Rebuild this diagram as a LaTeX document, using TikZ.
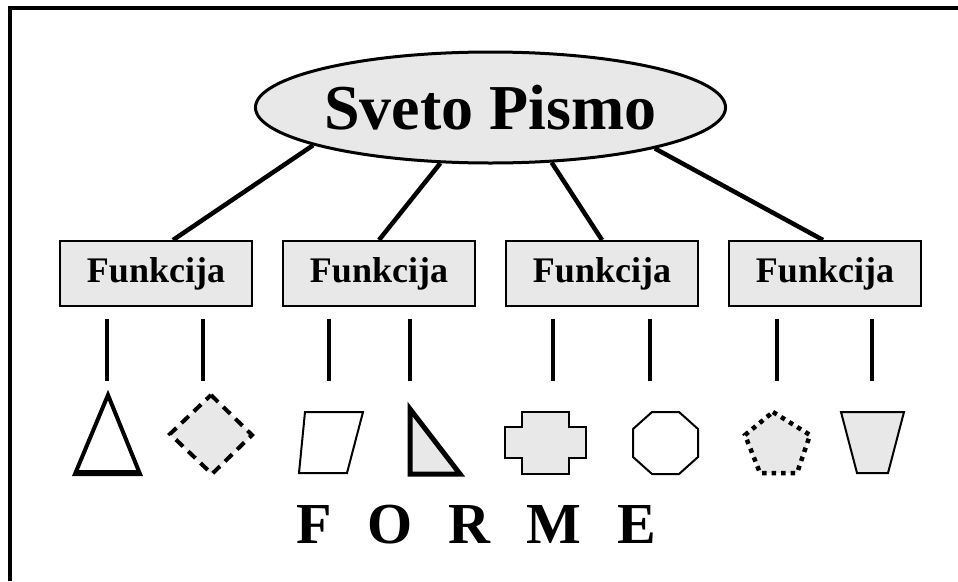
\documentclass[tikz,border=0pt]{standalone}
\usepackage{fontspec}
\setmainfont{Liberation Serif}
\usetikzlibrary{shapes.geometric,calc}
\definecolor{lgray}{HTML}{E8E8E8}
\begin{document}
\begin{tikzpicture}[x=1pt,y=-1pt,
  fbox/.style={draw, line width=2pt, fill=lgray, minimum width=192pt, minimum height=65pt, inner sep=0pt,
    font=\fontsize{36}{40}\selectfont\bfseries},
  conn/.style={line width=4.5pt},
  vline/.style={line width=4.5pt},
  thin/.style={line width=2pt, line join=miter},
]
\useasboundingbox (0,0) rectangle (958,581);
% frame
\draw[line width=4pt] (10,581) |- (958,8);
% root
\node[ellipse, draw, line width=3pt, fill=lgray, minimum width=451pt, minimum height=111pt, inner sep=0pt,
  font=\fontsize{64}{70}\selectfont\bfseries] (sp) at (490.5,107.5) {Sveto Pismo};
% boxes
\node[fbox] (f1) at (156,273.5) {Funkcija};
\node[fbox] (f2) at (379,273.5) {Funkcija};
\node[fbox] (f3) at (602,273.5) {Funkcija};
\node[fbox] (f4) at (825,273.5) {Funkcija};
% connectors
\draw[conn] (sp.192.9) -- ($(f1.north)+(17,0)$);
\draw[conn] (sp.228.9) -- (f2.north);
\draw[conn] (sp.318.8) -- (f3.north);
\draw[conn] (sp.346.1) -- ($(f4.north)+(-2,0)$);
% vertical lines
\foreach \x in {107,203,329,410,553,650,777,872}
  \draw[vline] (\x,319) -- (\x,381);
% triangle
\draw[line width=4pt, line join=miter, fill=white] (108,395) -- (140,474) -- (75,474) -- cycle;
\draw[line width=6pt] (76,473) -- (139,473);
% dashed diamond
\draw[line width=4pt, fill=lgray, dash pattern=on 10pt off 7pt] (211,395) -- (252,435) -- (212,474) -- (170,434) -- cycle;
% parallelogram
\draw[thin, fill=white] (305,412) -- (363,412) -- (347,473) -- (299,473) -- cycle;
% right triangle
\draw[line width=5pt, line join=miter, fill=lgray] (410,409) -- (410,474) -- (460,474) -- cycle;
% cross
\draw[thin, fill=lgray] (522,412) -- (569,412) -- (569,427) -- (586,427) -- (586,458) -- (569,458) -- (569,474)
  -- (522,474) -- (522,458) -- (505,458) -- (505,427) -- (522,427) -- cycle;
% octagon
\draw[thin, fill=white] (652,412) -- (679,412) -- (698,429) -- (698,457) -- (679,474) -- (652,474) -- (633,457) -- (633,429) -- cycle;
% dotted pentagon
\draw[line width=4.5pt, fill=lgray, dash pattern=on 4.5pt off 5pt] (773,412) -- (810,435) -- (797,473) -- (760,473) -- (745,435) -- cycle;
% trapezoid
\draw[thin, fill=lgray] (841,412) -- (904,412) -- (888,473) -- (857,473) -- cycle;
% FORME
\node[anchor=base, inner sep=0pt, font=\fontsize{58}{64}\selectfont\bfseries] (forme) at (476,543)
  {F\hspace{36pt}O\hspace{36pt}R\hspace{36pt}M\hspace{36pt}E};
\end{tikzpicture}
\end{document}
